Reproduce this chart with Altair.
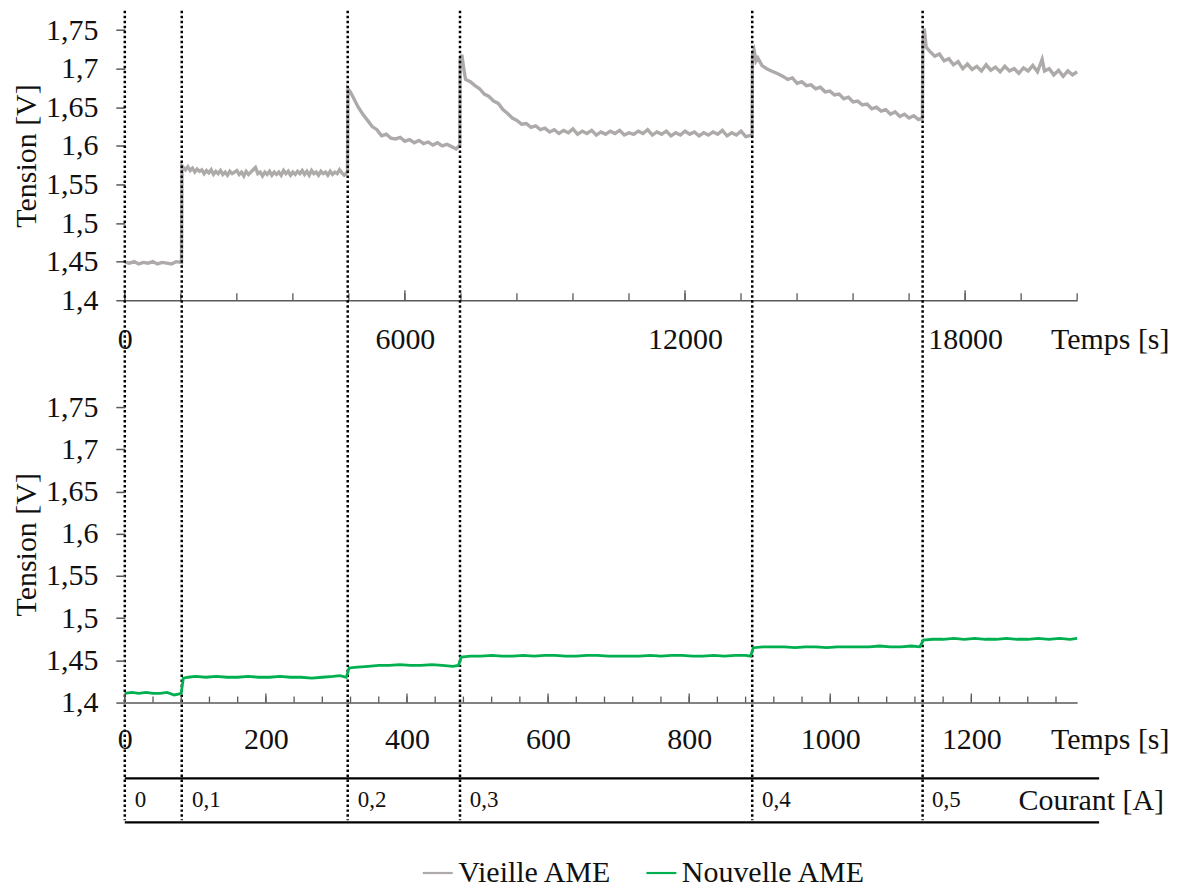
import altair as alt
import pandas as pd

FONT = "Liberation Serif"
TXT = "#111111"
AXC = "#595959"

SERIES = ["Vieille AME", "Nouvelle AME"]
COLORS = ["#aeaaaa", "#00b050"]

# ---- Vieille AME (top panel), time in s, tension in V ----
TOP_T = [0, 100, 200, 300, 400, 500, 600, 700, 800, 900, 1000, 1100, 1215,
         1225, 1300, 1350, 1400, 1450, 1500, 1550, 1600, 1650, 1700, 1750, 1800, 1850, 1900,
         1950, 2000, 2050, 2100, 2150, 2200, 2250, 2300, 2350, 2400,
         2450, 2500, 2550, 2600, 2650, 2700, 2750, 2800, 2850, 2900, 2950, 3000, 3050, 3100,
         3150, 3200, 3250, 3300, 3350, 3400, 3450, 3500, 3550, 3600, 3650, 3700,
         3750, 3800, 3850, 3900, 3950, 4000, 4050, 4100, 4150, 4200, 4250, 4300, 4350, 4400,
         4450, 4500, 4550, 4600, 4650, 4700, 4770,
         4780, 4830, 4900, 5000, 5100, 5200, 5300, 5400, 5500, 5600, 5700, 5800, 5900,
         6000, 6100, 6200, 6300, 6400, 6500, 6600, 6700, 6800, 6900, 7000, 7100, 7175,
         7185, 7220, 7260, 7300, 7400, 7500, 7600, 7700, 7800, 7900, 8000, 8100, 8200,
         8300, 8400, 8500, 8600, 8700, 8800, 8900, 9000, 9100, 9200, 9300, 9400, 9500,
         9600, 9700, 9800, 9900, 10000, 10100, 10200, 10300, 10400, 10500, 10600, 10700,
         10800, 10900, 11000, 11100, 11200, 11300, 11400, 11500, 11600, 11700, 11800,
         11900, 12000, 12100, 12200, 12300, 12400, 12500, 12600, 12700, 12800, 12900,
         13000, 13100, 13200, 13300, 13435,
         13445, 13480, 13520, 13560, 13650, 13750, 13850, 14000, 14100, 14200, 14300,
         14400, 14500, 14600, 14700, 14800, 14900, 15000, 15100, 15200, 15300, 15400,
         15500, 15600, 15700, 15800, 15900, 16000, 16100, 16200, 16300, 16400, 16500,
         16600, 16700, 16800, 16900, 17000, 17085,
         17095, 17125, 17165, 17250, 17350, 17450, 17550, 17650, 17750, 17850, 17950,
         18050, 18150, 18250, 18350, 18450, 18550, 18650, 18750, 18850, 18950, 19050,
         19150, 19250, 19350, 19450, 19550, 19650, 19700, 19800, 19900, 20000, 20100,
         20200, 20300, 20400]
TOP_V = [1.449, 1.448, 1.450, 1.447, 1.449, 1.448, 1.450, 1.447, 1.449, 1.448, 1.447, 1.450, 1.449,
         1.574, 1.569, 1.573, 1.568, 1.571, 1.566, 1.570, 1.567, 1.569, 1.564, 1.568, 1.565, 1.569, 1.563,
         1.567, 1.564, 1.568, 1.563, 1.566, 1.562, 1.567, 1.564, 1.566, 1.568,
         1.563, 1.566, 1.561, 1.567, 1.563, 1.566, 1.569, 1.572, 1.564, 1.566, 1.561, 1.566, 1.563, 1.567,
         1.562, 1.566, 1.563, 1.566, 1.562, 1.568, 1.564, 1.567, 1.562, 1.566, 1.563, 1.567,
         1.564, 1.568, 1.563, 1.567, 1.562, 1.568, 1.564, 1.566, 1.562, 1.567, 1.564, 1.566, 1.562, 1.567,
         1.563, 1.566, 1.564, 1.569, 1.565, 1.562, 1.566,
         1.674, 1.670, 1.662, 1.650, 1.641, 1.633, 1.625, 1.621, 1.613, 1.615, 1.610, 1.609, 1.611,
         1.606, 1.608, 1.604, 1.607, 1.603, 1.605, 1.601, 1.604, 1.600, 1.602, 1.599, 1.596, 1.601,
         1.712, 1.718, 1.700, 1.686, 1.683, 1.678, 1.674, 1.667, 1.664, 1.658, 1.655, 1.647, 1.642,
         1.636, 1.633, 1.628, 1.629, 1.624, 1.626, 1.621, 1.623, 1.618, 1.621, 1.616, 1.620, 1.617,
         1.622, 1.615, 1.619, 1.616, 1.620, 1.614, 1.618, 1.615, 1.619, 1.616, 1.620, 1.614,
         1.617, 1.615, 1.619, 1.616, 1.621, 1.614, 1.618, 1.615, 1.619, 1.613, 1.617,
         1.614, 1.619, 1.615, 1.618, 1.613, 1.617, 1.614, 1.618, 1.615, 1.620, 1.613,
         1.617, 1.614, 1.619, 1.612, 1.614,
         1.718, 1.724, 1.710, 1.714, 1.704, 1.700, 1.697, 1.693, 1.690, 1.686, 1.688,
         1.681, 1.683, 1.678, 1.679, 1.674, 1.676, 1.670, 1.671, 1.666, 1.667, 1.661,
         1.663, 1.657, 1.658, 1.653, 1.654, 1.648, 1.650, 1.645, 1.647, 1.641, 1.644,
         1.638, 1.641, 1.636, 1.639, 1.634, 1.636,
         1.735, 1.752, 1.728, 1.722, 1.716, 1.719, 1.710, 1.713, 1.705, 1.709, 1.700,
         1.706, 1.699, 1.703, 1.697, 1.705, 1.698, 1.702, 1.696, 1.703, 1.697, 1.700,
         1.694, 1.701, 1.697, 1.704, 1.696, 1.712, 1.697, 1.700, 1.692, 1.698, 1.690,
         1.697, 1.692, 1.696]

# ---- Nouvelle AME (bottom panel) ----
BOT_T = [0, 10, 20, 30, 40, 50, 60, 70, 76, 80,
         83, 90, 100, 115, 130, 145, 160, 175, 190, 205, 220, 235, 250, 265, 280, 295, 305, 314,
         318, 330, 345, 360, 375, 390, 405, 420, 435, 450, 465, 473,
         477, 490, 505, 520, 535, 550, 565, 580, 595, 610, 625, 640, 655, 670, 685, 700, 715,
         730, 745, 760, 775, 790, 805, 820, 835, 850, 865, 880, 887,
         891, 905, 920, 935, 950, 965, 980, 995, 1010, 1025, 1040, 1055, 1070, 1085, 1100,
         1115, 1127,
         1132, 1145, 1160, 1175, 1190, 1205, 1220, 1235, 1250, 1265, 1280, 1295, 1310, 1325,
         1340, 1350]
BOT_V = [1.411, 1.412, 1.411, 1.412, 1.411, 1.411, 1.412, 1.409, 1.410, 1.411,
         1.429, 1.430, 1.431, 1.430, 1.431, 1.430, 1.430, 1.431, 1.430, 1.430, 1.431, 1.430,
         1.430, 1.429, 1.430, 1.431, 1.432, 1.430,
         1.441, 1.442, 1.443, 1.444, 1.444, 1.445, 1.444, 1.444, 1.445, 1.444, 1.443, 1.444,
         1.454, 1.455, 1.455, 1.456, 1.455, 1.455, 1.456, 1.455, 1.456, 1.456, 1.455, 1.455,
         1.456, 1.456, 1.455, 1.455, 1.455, 1.455, 1.456, 1.455, 1.456, 1.456, 1.455, 1.455,
         1.456, 1.455, 1.456, 1.456, 1.455,
         1.465, 1.466, 1.466, 1.466, 1.465, 1.466, 1.466, 1.465, 1.466, 1.466, 1.466, 1.466,
         1.467, 1.466, 1.466, 1.467, 1.466,
         1.474, 1.475, 1.475, 1.476, 1.475, 1.476, 1.475, 1.475, 1.476, 1.475, 1.475, 1.476,
         1.475, 1.476, 1.475, 1.476]

# current steps
STEP_T_TOP = [0, 1220, 4775, 7180, 13440, 17090]
STEP_T_BOT = [0, 81, 316, 475, 889, 1130]
CURRENT_LABELS = ["0", "0,1", "0,2", "0,3", "0,4", "0,5"]

# axis ticks
Y_TICKS = [1.4, 1.45, 1.5, 1.55, 1.6, 1.65, 1.7, 1.75]
TOP_LABELS = [0, 6000, 12000, 18000]
TOP_MINOR = [0, 1200, 2400, 3600, 4800, 6000, 7200, 8400, 9600, 10800, 12000, 13200,
             14400, 15600, 16800, 18000, 19200, 20400]
BOT_LABELS = [0, 200, 400, 600, 800, 1000, 1200]
BOT_MINOR = list(range(0, 1321, 40))

TOP_H = 290
BOT_H = 317
W = 954
FS = 30

color = alt.Color(
    "s:N",
    scale=alt.Scale(domain=SERIES, range=COLORS),
    title=None,
    legend=alt.Legend(
        orient="none", legendX=297, legendY=847, direction="horizontal",
        symbolType="stroke", symbolSize=900, symbolStrokeWidth=2.2,
        labelFont=FONT, labelFontSize=FS, labelColor=TXT, labelOffset=4,
        labelLimit=0, columnPadding=30, padding=0,
    ),
)

ys = alt.Scale(domain=[1.4, 1.775], nice=False, zero=False)


def y_axis(h):
    return alt.Axis(
        values=Y_TICKS,
        labelExpr="replace(format(datum.value, '.2~f'), '.', ',')",
        domain=False, ticks=True, tickSize=9, tickColor=AXC, tickWidth=1.5,
        labelPadding=18, labelFont=FONT, labelFontSize=FS, labelColor=TXT,
        grid=False, title="Tension [V]", titleFont=FONT, titleFontSize=FS,
        titleFontWeight="normal", titleColor=TXT, titleAngle=270,
        titleX=-98, titleY=h / 2, titleAlign="center", titleBaseline="middle",
    )


def x_axis(values, pad):
    return alt.Axis(
        values=values, format="d", ticks=False, tickSize=0, domain=True,
        domainColor=AXC, domainWidth=1.5, labelPadding=pad, labelBaseline="middle",
        labelFont=FONT, labelFontSize=FS, labelColor=TXT, labelFlush=False,
        labelOverlap=False, grid=False, title="Temps [s]", titleFont=FONT,
        titleFontSize=FS, titleFontWeight="normal", titleColor=TXT,
        titleX=1046, titleY=pad, titleAlign="right", titleBaseline="middle",
    )


def tick_layer(values, xs, h, length):
    return alt.Chart(pd.DataFrame({"t": values})).mark_rule(
        color=AXC, strokeWidth=1.3
    ).encode(x=alt.X("t:Q", scale=xs), y=alt.value(h - length), y2=alt.value(h))


# ---------------- top panel ----------------
xs_top = alt.Scale(domain=[0, 20400], nice=False, zero=False)
top_df = pd.DataFrame({"t": TOP_T, "v": TOP_V, "s": SERIES[0]})

top_line = alt.Chart(top_df).mark_line(strokeWidth=3.4).encode(
    x=alt.X("t:Q", scale=xs_top, axis=x_axis(TOP_LABELS, 39)),
    y=alt.Y("v:Q", scale=ys, axis=y_axis(TOP_H)),
    color=color,
)
dotted = alt.Chart(pd.DataFrame({"t": STEP_T_TOP})).mark_rule(
    color="black", strokeWidth=2.5, strokeDash=[2.5, 2.5]
).encode(x=alt.X("t:Q", scale=xs_top), y=alt.value(0), y2=alt.value(811))

top = alt.layer(
    top_line,
    tick_layer(TOP_MINOR, xs_top, TOP_H, 7),
    tick_layer(TOP_LABELS, xs_top, TOP_H, 10),
    dotted,
).properties(width=W, height=TOP_H)

# ---------------- bottom panel ----------------
xs_bot = alt.Scale(domain=[0, 1350], nice=False, zero=False)
bot_df = pd.DataFrame({"t": BOT_T, "v": BOT_V, "s": SERIES[1]})

bot_line = alt.Chart(bot_df).mark_line(strokeWidth=2.8).encode(
    x=alt.X("t:Q", scale=xs_bot, axis=x_axis(BOT_LABELS, 37)),
    y=alt.Y("v:Q", scale=ys, axis=y_axis(BOT_H)),
    color=color,
)
one = pd.DataFrame({"k": [0]})
table_top = alt.Chart(one).mark_rule(color="black", strokeWidth=2.2).encode(
    x=alt.value(0), x2=alt.value(976), y=alt.value(393)
)
table_bot = alt.Chart(one).mark_rule(color="black", strokeWidth=2.2).encode(
    x=alt.value(0), x2=alt.value(976), y=alt.value(437)
)
cur_labels = alt.Chart(
    pd.DataFrame({"t": STEP_T_BOT, "label": CURRENT_LABELS})
).mark_text(
    font=FONT, fontSize=23, color=TXT, align="left", baseline="middle", dx=10
).encode(x=alt.X("t:Q", scale=xs_bot), y=alt.value(415), text="label:N")
cur_title = alt.Chart(pd.DataFrame({"label": ["Courant [A]"]})).mark_text(
    font=FONT, fontSize=FS, color=TXT, align="right", baseline="middle"
).encode(x=alt.value(1041), y=alt.value(416), text="label:N")

bottom = alt.layer(
    bot_line,
    tick_layer(BOT_MINOR, xs_bot, BOT_H, 6),
    tick_layer(BOT_LABELS, xs_bot, BOT_H, 9),
    table_top,
    table_bot,
    cur_labels,
    cur_title,
).properties(width=W, height=BOT_H)

chart = (
    alt.vconcat(top, bottom, spacing=86, bounds="flush")
    .resolve_scale(x="independent", y="independent", color="shared")
    .properties(padding={"left": 4, "top": 0, "right": 0, "bottom": 0})
    .configure(font=FONT)
    .configure_view(strokeWidth=0)
)

chart.save("out.html", embed_options={"renderer": "svg", "actions": False})
